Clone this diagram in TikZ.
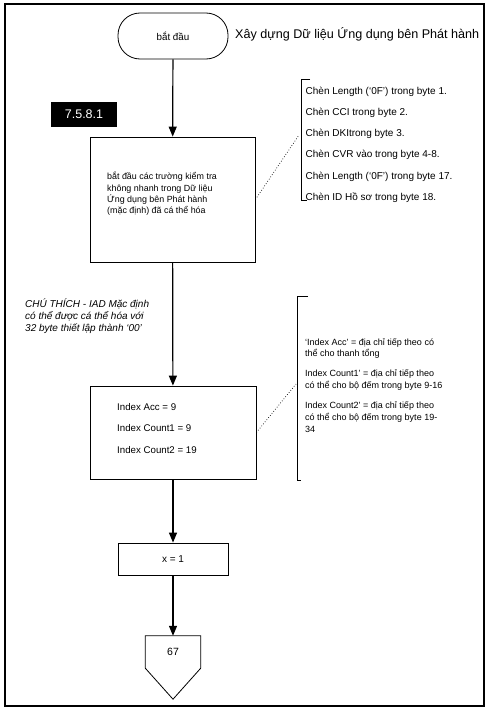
\documentclass[tikz,border=0pt]{standalone}
\usepackage{fontspec}
\setmainfont{Liberation Sans}
\usetikzlibrary{arrows.meta}

\begin{document}
\begin{tikzpicture}[x=1pt,y=-1pt,
        box/.style={draw, line width=0.8pt, inner sep=0pt},
        flow/.style={line width=1.2pt, -{Triangle[width=8pt,length=10pt]}},
        link/.style={dotted, line width=0.7pt},
        brace/.style={line width=0.9pt},
        txt/.style={anchor=north west, align=left, inner sep=0pt}]
    \useasboundingbox (0,0) rectangle (490,709);
    \draw[line width=1.2pt] (5,4) rectangle (484,706);
    % start and heading
    \node (start) [box, rounded corners=22pt, minimum width=110pt, minimum height=46pt,
        font=\fontsize{9.8}{12}\selectfont] at (173,36) {bắt đầu};
    \node (title) [anchor=west, inner sep=0pt, font=\fontsize{12.6}{15}\selectfont]
        at (235,34) {Xây dựng Dữ liệu Ứng dụng bên Phát hành};
    \node (ref) [fill=black, text=white, minimum width=66pt, minimum height=25pt,
        font=\fontsize{12.5}{14}\selectfont] at (84,114.5) {7.5.8.1};
    % first step
    \node (init) [box, minimum width=165pt, minimum height=125pt] at (172.5,199.5) {};
    \node (inittxt) [txt, font=\fontsize{8.9}{11.3}\selectfont] at (107,172)
        {bắt đầu các trường kiểm tra\\không nhanh trong Dữ liệu\\Ứng dụng bên Phát hành\\(mặc định) đã cá thể hóa};
    \node (ins) [txt, font=\fontsize{10}{21.3}\selectfont] at (305.5,86.5)
        {Chèn Length (‘0F’) trong byte 1.\\Chèn CCI trong byte 2.\\Chèn DKItrong byte 3.\\Chèn CVR vào trong byte 4-8.\\Chèn Length (‘0F’) trong byte 17.\\Chèn ID Hồ sơ trong byte 18.};
    \draw[brace] (310,79) -- (301,79) -- (301,200) -- (307,200);
    \coordinate (insend) at (299,135);
    \draw[link] (init.east) -- (insend);
    % note
    \node (remark) [txt, font=\fontsize{10}{12}\selectfont\itshape] at (25,298.5)
        {CHÚ THÍCH - IAD Mặc định\\có thể được cá thể hóa với\\32 byte thiết lập thành ‘00’};
    % index values
    \node (idx) [box, minimum width=166pt, minimum height=93pt] at (173,432.5) {};
    \node (idxtxt) [txt, font=\fontsize{9.7}{21.5}\selectfont] at (117,403)
        {Index Acc = 9\\Index Count1 = 9\\Index Count2 = 19};
    \node (idxinfo) [txt, font=\fontsize{9}{11.8}\selectfont] at (305,338)
        {‘Index Acc’ = địa chỉ tiếp theo có\\thể cho thanh tổng\\[8.2pt]
         Index Count1’ = địa chỉ tiếp theo\\có thể cho bộ đếm trong byte 9-16\\[8.2pt]
         Index Count2’ = địa chỉ tiếp theo\\có thể cho bộ đếm trong byte 19-\\34};
    \draw[brace] (308,296) -- (297,296) -- (297,480) -- (301,480);
    \coordinate (idxend) at (296,384);
    \draw[link] (idx.east) -- (idxend);
    % counter and off-page link
    \node (setx) [box, minimum width=110pt, minimum height=32pt,
        font=\fontsize{10}{12}\selectfont] at (173,559) {x = 1};
    \node (off) [inner sep=0pt, minimum width=55pt, minimum height=32pt,
        font=\fontsize{10.5}{12}\selectfont] at (173,652) {67};
    \draw[line width=0.8pt] (off.north west) -- (off.north east) -- (off.south east)
        -- ([yshift=-31pt]off.south) -- (off.south west) -- cycle;
    \draw[flow] (start) -- (init);
    \draw[flow] (init) -- (idx);
    \draw[flow] (idx) -- (setx);
    \draw[flow] (setx) -- (off);
\end{tikzpicture}
\end{document}
